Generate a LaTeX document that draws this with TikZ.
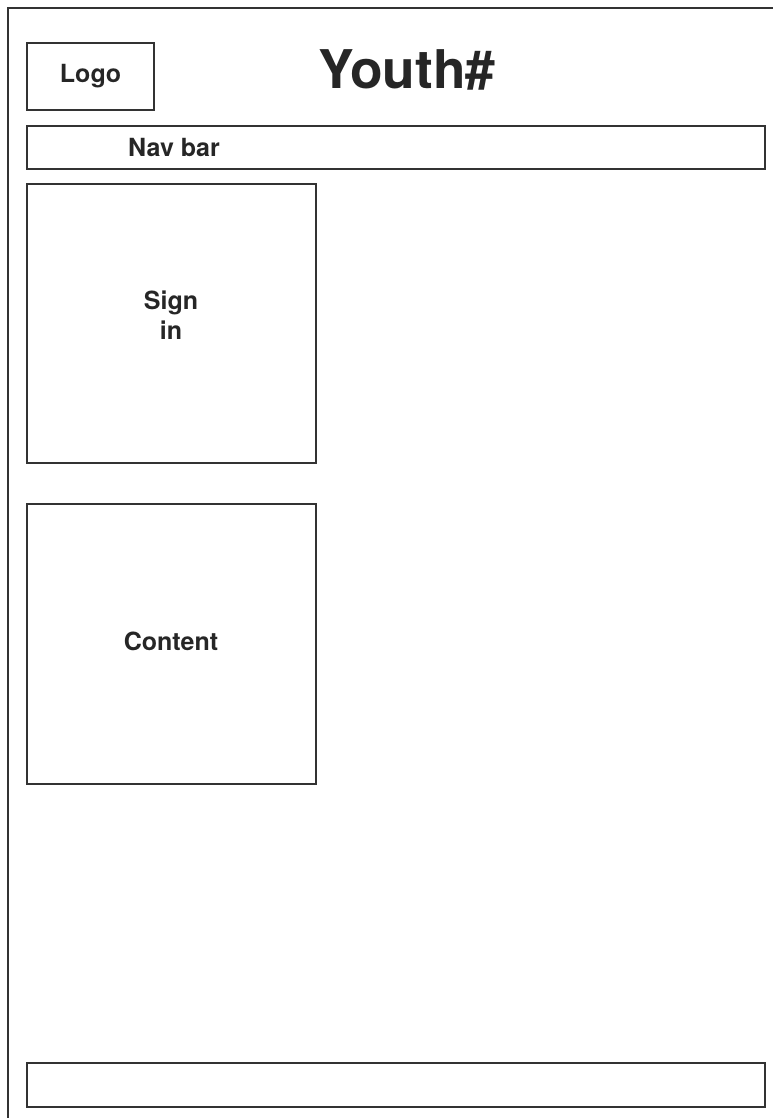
\documentclass[tikz,border=0pt]{standalone}
\usepackage{fontspec}
\setmainfont{TeX Gyre Heros}
\usepackage{xcolor}
\usetikzlibrary{positioning}

\begin{document}
\begin{tikzpicture}[x=0.75pt,y=-0.75pt,
  frame/.style={draw=black!80,line width=1pt},
  box/.style={frame,rectangle,inner sep=0pt},
  lbl/.style={text=black!85,font=\bfseries\fontsize{18.75}{22.5}\selectfont,align=center}]
\useasboundingbox (0,0) rectangle (773,1118);
% page frame, cut at right and bottom
\draw[frame] (8,1130)--(8,8)--(790,8);
% header
\node[box,minimum width=95.25pt,minimum height=50.25pt] (logo) at (90.5,76.5) {};
\node[lbl] (logotext) at (logo.center) {Logo};
\node[text=black!85,font=\bfseries\fontsize{40}{44}\selectfont] (title) at (407,70) {Youth\#};
\node[box,minimum width=553.5pt,minimum height=32.25pt] (navbar) at (396,147.5) {};
\node[lbl] (navtext) at (174,147) {Nav bar};
% blocks
\node[box,minimum width=216.75pt,minimum height=209.25pt] (signin) at (171.5,323.5) {};
\node[lbl] (signtext) at (171,315) {Sign\\in};
\node[box,minimum width=216.75pt,minimum height=210pt] (content) at (171.5,644) {};
\node[lbl] (contenttext) at (171,641) {Content};
% footer
\node[box,minimum width=553.5pt,minimum height=33pt] (footer) at (396,1085) {};
\end{tikzpicture}
\end{document}
